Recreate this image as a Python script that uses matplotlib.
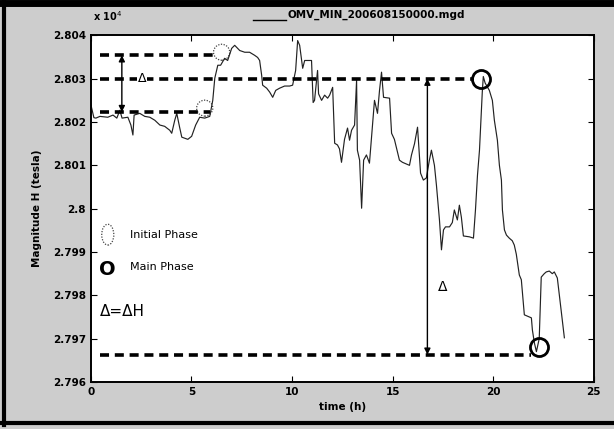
import matplotlib
matplotlib.use("Agg")
import matplotlib.pyplot as plt
from matplotlib.patches import Ellipse
from matplotlib.ticker import MultipleLocator, FuncFormatter

# H component, OMV station (hours, nT)
time_h = [0.00, 0.15, 0.25, 0.45, 0.84, 1.10, 1.29, 1.44, 1.55, 1.84, 1.99, 2.09,
          2.15, 2.43, 2.68, 2.93, 3.18, 3.43, 3.67, 3.92, 4.02, 4.17, 4.27, 4.42,
          4.52, 4.82, 5.01, 5.21, 5.41, 5.66, 5.91, 6.06, 6.16, 6.31, 6.45, 6.65,
          6.80, 7.00, 7.15, 7.40, 7.65, 7.89, 8.14, 8.29, 8.39, 8.49, 8.54, 8.74,
          8.89, 9.04, 9.19, 9.38, 9.63, 9.88, 10.03, 10.18, 10.28, 10.38, 10.48, 10.53,
          10.63, 10.77, 10.97, 11.05, 11.12, 11.27, 11.32, 11.47, 11.62, 11.77, 11.87, 12.02,
          12.12, 12.26, 12.36, 12.46, 12.61, 12.76, 12.86, 12.96, 13.11, 13.21, 13.25, 13.36,
          13.46, 13.56, 13.70, 13.85, 14.00, 14.10, 14.25, 14.35, 14.45, 14.55, 14.85, 14.95,
          15.09, 15.34, 15.49, 15.59, 15.84, 15.94, 16.09, 16.24, 16.39, 16.53, 16.68, 16.83,
          16.93, 17.08, 17.18, 17.33, 17.43, 17.53, 17.63, 17.83, 17.97, 18.07, 18.22, 18.32,
          18.42, 18.52, 18.82, 19.02, 19.12, 19.22, 19.32, 19.41, 19.46, 19.51, 19.60, 19.81,
          19.96, 20.06, 20.21, 20.31, 20.41, 20.46, 20.56, 20.66, 20.80, 20.95, 21.05, 21.15,
          21.30, 21.40, 21.55, 21.80, 21.90, 21.95, 22.05, 22.15, 22.29, 22.39, 22.54, 22.64,
          22.79, 22.94, 23.04, 23.19, 23.39, 23.54]
h_nt = [28024.0, 28021.0, 28020.9, 28021.3, 28021.1, 28021.6, 28020.9, 28022.7, 28020.9, 28021.1, 28019.3, 28017.0,
        28021.6, 28022.0, 28021.3, 28021.1, 28020.4, 28019.3, 28019.0, 28018.1, 28017.4, 28020.4, 28022.0, 28018.6,
        28016.5, 28016.0, 28016.7, 28019.3, 28021.1, 28020.9, 28021.3, 28025.0, 28030.1, 28033.1, 28033.1, 28034.7,
        28034.2, 28037.0, 28037.7, 28036.5, 28036.1, 28036.1, 28035.4, 28034.9, 28034.2, 28030.8, 28028.5, 28027.8,
        28026.9, 28025.7, 28027.3, 28027.8, 28028.3, 28028.3, 28028.5, 28031.9, 28038.8, 28037.7, 28034.2, 28032.4,
        28034.2, 28034.2, 28034.2, 28024.5, 28025.0, 28031.9, 28026.5, 28025.0, 28026.2, 28025.5, 28026.2, 28028.0,
        28015.1, 28014.7, 28013.8, 28010.7, 28016.0, 28018.6, 28015.8, 28018.1, 28019.3, 28029.6, 28013.5, 28011.2,
        28000.1, 28011.2, 28012.4, 28010.5, 28019.3, 28025.0, 28022.0, 28027.3, 28031.5, 28025.7, 28025.5, 28017.4,
        28016.0, 28011.2, 28010.7, 28010.5, 28010.0, 28012.4, 28015.0, 28018.8, 28008.2, 28006.6, 28007.1, 28011.2,
        28013.5, 28010.0, 28005.4, 27997.4, 27990.5, 27995.1, 27995.8, 27995.8, 27996.8, 27999.7, 27997.4, 28000.8,
        27998.0, 27993.7, 27993.5, 27993.2, 27999.7, 28007.7, 28013.5, 28022.0, 28027.0, 28030.5, 28029.0, 28027.3,
        28025.0, 28020.4, 28015.8, 28010.0, 28006.6, 27999.7, 27995.1, 27993.9, 27993.2, 27992.6, 27991.6, 27989.5,
        27984.7, 27983.6, 27975.5, 27975.0, 27974.8, 27972.0, 27969.0, 27967.0, 27970.0, 27984.2, 27985.0, 27985.4,
        27985.6, 27985.0, 27985.4, 27984.0, 27976.0, 27970.2]

# reference levels (nT)
initial_top = 28035.4
initial_bottom = 28022.3
main_top = 28030.0
main_bottom = 27966.3

# phase markers (hours, nT)
initial_circles_t = [6.5, 5.66]
initial_circles_h = [28036.1, 28023.2]
main_circles_t = [19.41, 22.29]
main_circles_h = [28030.0, 27968.1]

fig = plt.figure(figsize=(6.14, 4.29), dpi=100, facecolor="#cdcdcd")
ax = fig.add_axes([0.148, 0.1096, 0.819, 0.808])
ax.set_facecolor("white")

ax.plot(time_h, h_nt, color="#222222", linewidth=0.85)

dash = dict(color="black", linewidth=2.6, linestyle=(0, (2.5, 1.6)))
ax.plot([0.45, 6.26], [initial_top, initial_top], **dash)
ax.plot([0.45, 5.9], [initial_bottom, initial_bottom], **dash)
ax.plot([0.45, 19.07], [main_top, main_top], **dash)
ax.plot([0.45, 21.9], [main_bottom, main_bottom], **dash)

# dotted circles: 16 px across (20.14 px per hour, 4.34 px per nT)
for t, h in zip(initial_circles_t, initial_circles_h):
    ax.add_patch(Ellipse((t, h), 0.8, 3.7, fill=False, edgecolor="#444444",
                         linewidth=0.9, linestyle=(0, (1, 1.2))))
ax.plot(main_circles_t, main_circles_h, "o", markersize=13, markerfacecolor="none",
        markeredgecolor="black", markeredgewidth=2.0, linestyle="none")

arrow = dict(arrowstyle="<|-|>", color="black", lw=1.0, mutation_scale=9, shrinkA=0, shrinkB=0)
ax.annotate("", xy=(1.54, initial_top), xytext=(1.54, initial_bottom), arrowprops=arrow)
ax.annotate("", xy=(16.73, main_top), xytext=(16.73, main_bottom), arrowprops=arrow)
ax.text(2.53, main_top, "Δ", ha="center", va="center", fontsize=9,
        bbox=dict(facecolor="white", edgecolor="none", pad=0.5))
ax.text(17.48, 27982, "Δ", ha="center", va="center", fontsize=10)

# hand-drawn legend
ax.add_patch(Ellipse((0.84, 27994.0), 0.6, 4.8, fill=False, edgecolor="#444444",
                     linewidth=0.9, linestyle=(0, (1, 1.2))))
ax.text(1.94, 27994.0, "Initial Phase", ha="left", va="center", fontsize=8)
ax.text(0.84, 27986.0, "O", ha="center", va="center", fontsize=14, fontweight="bold")
ax.text(1.94, 27986.6, "Main Phase", ha="left", va="center", fontsize=8)
ax.text(0.45, 27976.2, "Δ=ΔH", ha="left", va="center", fontsize=11)

ax.set_xlim(0, 25)
ax.set_ylim(27960, 28040)
ax.xaxis.set_major_locator(MultipleLocator(5))
ax.yaxis.set_major_locator(MultipleLocator(10))
ax.yaxis.set_major_formatter(FuncFormatter(lambda v, p: f"{v / 1e4:g}"))
ax.tick_params(direction="in", top=True, right=True, length=4, labelsize=7.5)
for lab in ax.get_xticklabels() + ax.get_yticklabels():
    lab.set_fontweight("bold")
for s in ax.spines.values():
    s.set_linewidth(1.4)

ax.set_xlabel("time (h)", fontsize=7.5, fontweight="bold", labelpad=4)
ax.set_ylabel("Magnitude H (tesla)", fontsize=7.5, fontweight="bold", labelpad=8)

fig.text(0.152, 0.962, "x 10$^4$", fontsize=7, fontweight="bold", va="center")
fig.add_artist(plt.Line2D([0.412, 0.465], [0.953, 0.953], color="black", lw=1.0))
fig.text(0.468, 0.965, "OMV_MIN_200608150000.mgd", fontsize=7.5, fontweight="bold", va="center")

# scan border
fig.add_artist(plt.Line2D([0, 1], [0.993, 0.993], color="black", lw=5))
fig.add_artist(plt.Line2D([0.006, 0.006], [0.01, 1], color="black", lw=3))
fig.add_artist(plt.Line2D([0, 1], [0.015, 0.015], color="black", lw=3))

fig.savefig("out.png", dpi=100, facecolor=fig.get_facecolor())
